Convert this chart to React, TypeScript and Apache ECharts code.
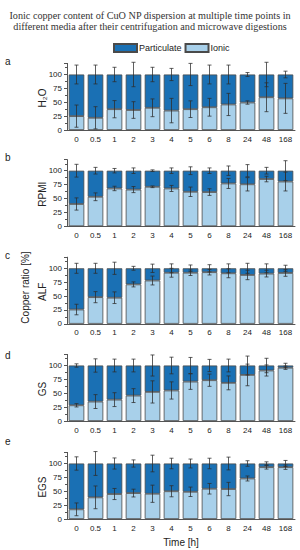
import React, { useEffect, useRef } from "react";
import * as echarts from "echarts";

const categories = ["0", "0.5", "1", "2", "3", "4", "5", "6", "8", "24", "48", "168"];
const panelLetters = ["a", "b", "c", "d", "e"];
const media = ["H₂O", "RPMI", "ALF", "GS", "EGS"];
const yTicks = [0, 25, 50, 75, 100];

const ionicA = [25, 22, 37.5, 36, 40, 35, 37.5, 41, 46, 49.5, 59, 57];
const ionicErrA = [20, 20, 15.5, 15, 16, 22, 15, 16, 20, 3, 26, 27];
const partErrA = [17, 17, 13, 22, 13, 11, 20, 17, 17, 3.5, 22, 6];

const ionicB = [40, 53, 68, 66, 71, 68, 62, 61.5, 77, 75.5, 85, 80.5];
const ionicErrB = [11, 7, 4, 5.5, 1.5, 5.5, 8.5, 6, 9, 12, 5, 17];
const partErrB = [11.5, 6, 4, 5, 1.5, 5, 7, 5, 8.5, 11, 6, 18];

const ionicC = [25.7, 48, 47, 71, 78, 92, 92, 93, 91, 88, 90.4, 91.6];
const ionicErrC = [9.5, 10, 10.5, 4.5, 8, 8, 5, 5, 8, 8.5, 6, 6];
const partErrC = [9, 9, 11, 3.5, 7.5, 8, 6, 6.5, 8, 9, 8, 5.5];

const ionicD = [28.3, 35, 38.5, 45.8, 52.4, 55, 71, 73.5, 68.7, 83, 91, 96];
const ionicErrD = [3, 12.5, 12.5, 12.5, 20, 15.5, 14, 11, 12.5, 19.5, 10, 3];
const partErrD = [3, 12, 11.5, 11.5, 19, 15, 14.5, 11, 11.5, 17, 13, 4];

const ionicE = [17.4, 39, 45, 46.7, 45.5, 50, 49, 54.5, 54, 73, 93.4, 93.4];
const ionicErrE = [11.5, 20.5, 10, 7, 15.5, 10, 8.5, 9.5, 12, 4.5, 3.5, 4];
const partErrE = [12, 21.5, 10, 6.5, 15, 9.5, 8, 9.5, 11.5, 5, 3, 5.5];

const ionicAll = [ionicA, ionicB, ionicC, ionicD, ionicE];
const ionicErrAll = [ionicErrA, ionicErrB, ionicErrC, ionicErrD, ionicErrE];
const partErrAll = [partErrA, partErrB, partErrC, partErrD, partErrE];

const TOTAL = 100;

const DARK = "#1a70b4";
const LIGHT = "#a8d0ea";
const EDGE = "#4a4a4a";

const gridTops = [63.4, 159.6, 257.2, 354.4, 452.4];
const gridHeight = 66.6;
const letterY = [62, 158, 256, 356, 442];

export default function App() {
  const ref = useRef<HTMLDivElement>(null);

  useEffect(() => {
    document.body.style.margin = "0";
    if (!ref.current) return;
    const chart = echarts.init(ref.current, null, { renderer: "svg" });

    const grids: any[] = [];
    const xAxes: any[] = [];
    const yAxes: any[] = [];
    const series: any[] = [];
    const graphics: any[] = [];

    for (let p = 0; p < 5; p++) {
      grids.push({ left: 67, right: 5, top: gridTops[p], height: gridHeight });
      xAxes.push({
        type: "category",
        gridIndex: p,
        data: categories,
        axisLine: { lineStyle: { color: "#555", width: 1 } },
        axisTick: { alignWithLabel: true, length: 3, lineStyle: { color: "#555" } },
        axisLabel: { fontSize: 8, color: "#222", margin: 5, fontFamily: "Liberation Sans" },
      });
      yAxes.push({
        type: "value",
        gridIndex: p,
        min: 0,
        max: 120,
        interval: 25,
        axisLine: { show: true, lineStyle: { color: "#555", width: 1 } },
        axisTick: { show: true, length: 3, lineStyle: { color: "#555" } },
        minorTick: { show: true, splitNumber: 2, length: 2, lineStyle: { color: "#555" } },
        splitLine: { show: false },
        axisLabel: {
          fontSize: 8,
          color: "#222",
          margin: 5,
          fontFamily: "Liberation Sans",
          showMaxLabel: false,
          formatter: (v: number) => (yTicks.indexOf(v) >= 0 ? String(v) : ""),
        },
      });

      const ionic = ionicAll[p];
      const part = ionic.map((v) => +(TOTAL - v).toFixed(2));

      series.push({
        name: "Ionic",
        type: "bar",
        xAxisIndex: p,
        yAxisIndex: p,
        stack: "s" + p,
        barWidth: "82%",
        data: ionic,
        itemStyle: { color: LIGHT, borderColor: EDGE, borderWidth: 0.8 },
      });
      series.push({
        name: "Particulate",
        type: "bar",
        xAxisIndex: p,
        yAxisIndex: p,
        stack: "s" + p,
        barWidth: "82%",
        data: part,
        itemStyle: { color: DARK, borderColor: EDGE, borderWidth: 0.8 },
      });

      const errData: number[][] = [];
      ionic.forEach((v, i) => errData.push([i, v, ionicErrAll[p][i]]));
      ionic.forEach((_v, i) => errData.push([i, TOTAL, partErrAll[p][i]]));

      series.push({
        type: "custom",
        xAxisIndex: p,
        yAxisIndex: p,
        z: 10,
        silent: true,
        data: errData,
        renderItem: (_params: any, api: any) => {
          const i = api.value(0);
          const v = api.value(1);
          const e = api.value(2);
          const hi = api.coord([i, v + e]);
          const lo = api.coord([i, v - e]);
          const w = 2;
          const style = { stroke: "rgba(45,45,45,0.85)", lineWidth: 0.9 };
          return {
            type: "group",
            children: [
              { type: "line", shape: { x1: hi[0], y1: hi[1], x2: lo[0], y2: lo[1] }, style },
              { type: "line", shape: { x1: hi[0] - w, y1: hi[1], x2: hi[0] + w, y2: hi[1] }, style },
              { type: "line", shape: { x1: lo[0] - w, y1: lo[1], x2: lo[0] + w, y2: lo[1] }, style },
            ],
          };
        },
      });

      graphics.push({
        type: "text",
        left: 5,
        top: letterY[p] - 6,
        style: { text: panelLetters[p], fontSize: 10, fill: "#222", fontFamily: "Liberation Sans" },
      });
      graphics.push({
        type: "text",
        x: 42,
        y: gridTops[p] + gridHeight * 0.52,
        rotation: Math.PI / 2,
        style: {
          text: media[p],
          fontSize: 10,
          fill: "#222",
          fontFamily: "Liberation Sans",
          align: "center",
          verticalAlign: "middle",
        },
      });
    }

    graphics.push({
      type: "text",
      x: 25,
      y: 287.5,
      rotation: Math.PI / 2,
      style: {
        text: "Copper ratio [%]",
        fontSize: 10,
        fill: "#222",
        fontFamily: "Liberation Sans",
        align: "center",
        verticalAlign: "middle",
      },
    });
    graphics.push({
      type: "text",
      x: 181,
      y: 542,
      style: {
        text: "Time [h]",
        fontSize: 10,
        fill: "#222",
        fontFamily: "Liberation Sans",
        align: "center",
        verticalAlign: "middle",
      },
    });

    chart.setOption({
      animation: false,
      title: {
        text: "Ionic copper content of CuO NP dispersion at multiple time points in\ndifferent media after their centrifugation and microwave digestions",
        left: "center",
        top: 5,
        textStyle: {
          fontFamily: "Liberation Serif",
          fontSize: 10.2,
          lineHeight: 11,
          fontWeight: "normal",
          color: "#333",
        },
      },
      legend: {
        data: ["Particulate", "Ionic"],
        left: 108,
        top: 38,
        itemWidth: 23,
        itemHeight: 8,
        itemGap: 3,
        icon: "rect",
        textStyle: { fontSize: 9, color: "#222", fontFamily: "Liberation Sans", padding: [0, 0, 0, -3] },
      },
      grid: grids,
      xAxis: xAxes,
      yAxis: yAxes,
      series,
      graphic: graphics,
    });

    return () => chart.dispose();
  }, []);

  return <div ref={ref} style={{ width: 300, height: 550 }} />;
}
